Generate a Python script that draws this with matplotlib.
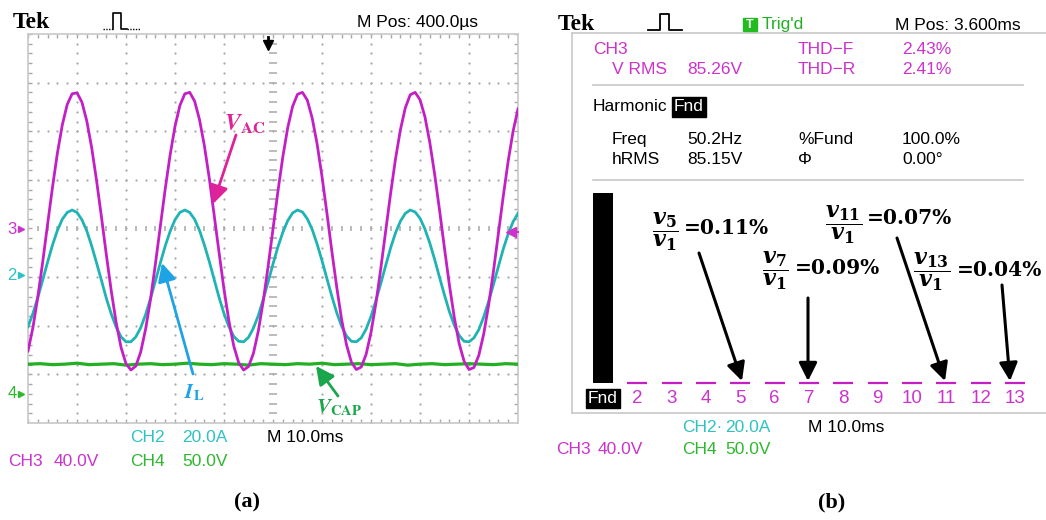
'''Scope captures: (a) waveforms, (b) harmonic spectrum of V_AC'''
import numpy as np
import matplotlib.pyplot as plt
from matplotlib.lines import Line2D
from matplotlib.patches import Rectangle

W, H = 1046, 520

# screen (a): samples every 1 ms (10 ms/div), values in divisions
t_ms = np.arange(101)
v_ac = [-2.52, -2.04, -1.41, -0.69, 0.09, 0.85, 1.55, 2.13, 2.55, 2.77,
        2.79, 2.60, 2.21, 1.66, 0.98, 0.23, -0.55, -1.29, -1.94, -2.45,
        -2.78, -2.91, -2.83, -2.54, -2.07, -1.46, -0.73, 0.04, 0.81, 1.51,
        2.10, 2.53, 2.77, 2.80, 2.62, 2.24, 1.70, 1.03, 0.27, -0.50,
        -1.25, -1.90, -2.42, -2.76, -2.91, -2.84, -2.57, -2.11, -1.50, -0.78,
        -0.01, 0.76, 1.47, 2.07, 2.51, 2.76, 2.80, 2.64, 2.27, 1.74,
        1.07, 0.32, -0.46, -1.20, -1.87, -2.39, -2.75, -2.90, -2.85, -2.59,
        -2.14, -1.54, -0.82, -0.05, 0.72, 1.43, 2.03, 2.48, 2.75, 2.80,
        2.65, 2.30, 1.77, 1.11, 0.37, -0.41, -1.16, -1.83, -2.37, -2.73,
        -2.90, -2.86, -2.61, -2.17, -1.58, -0.87, -0.10, 0.67, 1.39, 2.00,
        2.46]
i_l = [-2.02, -1.75, -1.42, -1.06, -0.69, -0.34, -0.04, 0.19, 0.33, 0.38,
       0.33, 0.18, -0.05, -0.36, -0.71, -1.07, -1.44, -1.76, -2.03, -2.23,
       -2.33, -2.33, -2.23, -2.04, -1.77, -1.44, -1.08, -0.71, -0.36, -0.06,
       0.18, 0.33, 0.38, 0.33, 0.19, -0.04, -0.34, -0.68, -1.05, -1.42,
       -1.75, -2.02, -2.22, -2.32, -2.33, -2.24, -2.05, -1.79, -1.46, -1.10,
       -0.73, -0.38, -0.08, 0.16, 0.32, 0.38, 0.34, 0.20, -0.02, -0.32,
       -0.66, -1.03, -1.39, -1.73, -2.01, -2.21, -2.32, -2.33, -2.25, -2.07,
       -1.81, -1.48, -1.13, -0.76, -0.40, -0.09, 0.15, 0.31, 0.38, 0.34,
       0.21, -0.01, -0.30, -0.64, -1.01, -1.37, -1.71, -1.99, -2.20, -2.32,
       -2.33, -2.25, -2.08, -1.82, -1.50, -1.15, -0.78, -0.42, -0.11, 0.14,
       0.31]
vcap_t = np.arange(0, 101, 2.5)
v_cap = [-2.79, -2.78, -2.80, -2.79, -2.77, -2.80, -2.79, -2.78, -2.81, -2.79,
         -2.78, -2.80, -2.79, -2.77, -2.79, -2.80, -2.78, -2.79, -2.81, -2.78,
         -2.79, -2.80, -2.78, -2.79, -2.77, -2.80, -2.79, -2.78, -2.80, -2.79,
         -2.78, -2.81, -2.79, -2.78, -2.80, -2.79, -2.78, -2.79, -2.80, -2.78,
         -2.79]

# screen (b): harmonic amplitudes, % of fundamental
harmonics = np.arange(1, 14)
harm_pct = [100.0, 0.02, 0.03, 0.02, 0.11, 0.02, 0.09, 0.01, 0.02, 0.01, 0.07, 0.01, 0.04]
harm_labels = ['Fnd'] + [str(h) for h in range(2, 14)]
callouts = [(5, '5', '0.11%'), (7, '7', '0.09%'), (11, '11', '0.07%'), (13, '13', '0.04%')]

PUR, CYA, GRN = '#c41fc4', '#1fb3b3', '#22b022'
PUR_T, CYA_T, GRN_T = '#cc33cc', '#2ec2c2', '#2eb82e'
GRAT = '#a8a8a8'
SCOPE = ['Liberation Sans Narrow', 'Liberation Sans', 'DejaVu Sans']
SERIF = ['Liberation Serif', 'DejaVu Serif']

fig = plt.figure(figsize=(W / 100, H / 100), dpi=100)


def fx(x):
    return x / W


def fy(y):
    return 1 - y / H


def stext(x, y, s, color='black', size=12.5, **kw):
    fig.text(fx(x), fy(y), s, color=color, fontsize=size, family=SCOPE, va='center', **kw)


def fline(xs, ys, **kw):
    fig.add_artist(Line2D([fx(v) for v in xs], [fy(v) for v in ys], transform=fig.transFigure, **kw))


# ---------------- (a) ----------------
axL = fig.add_axes([fx(28), fy(423), 490 / W, 389 / H])
axL.set_xlim(0, 100)
axL.set_ylim(-4, 4)
axL.set_xticks([])
axL.set_yticks([])
for sp in axL.spines.values():
    sp.set_color('#c8c8c8')
    sp.set_linewidth(1.2)

minor_x = np.arange(0, 101, 2)
minor_y = np.arange(-4, 4.01, 0.2)
for gy in [-3, -2, -1, 1, 2, 3]:
    axL.scatter(minor_x, np.full(minor_x.size, gy), s=2.6, color=GRAT, lw=0)
for gx in [10, 20, 30, 40, 60, 70, 80, 90]:
    axL.scatter(np.full(minor_y.size, gx), minor_y, s=2.6, color=GRAT, lw=0)
axL.vlines(minor_x, -0.06, 0.06, color=GRAT, lw=1.1)
axL.hlines(minor_y, 49.2, 50.8, color=GRAT, lw=1.1)
axL.vlines(minor_x, 3.92, 4, color=GRAT, lw=1)
axL.vlines(minor_x, -4, -3.92, color=GRAT, lw=1)
axL.hlines(minor_y, 0, 0.8, color=GRAT, lw=1)
axL.hlines(minor_y, 99.2, 100, color=GRAT, lw=1)

axL.plot(t_ms, i_l, color=CYA, lw=2.0, zorder=3)
axL.plot(vcap_t, v_cap, color=GRN, lw=2.3, zorder=3)
axL.plot(t_ms, v_ac, color=PUR, lw=2.0, zorder=4)

arrow = dict(arrowstyle='-|>,head_length=0.5,head_width=0.25', lw=2, shrinkA=0, shrinkB=0,
             mutation_scale=22)


def to_l(x, y):
    return (x - 28) / 490 * 100, 4 - (y - 34) / 389 * 8


axL.annotate('', xy=to_l(213, 204), xytext=to_l(236, 135), arrowprops=dict(arrow, color='#de2399'), zorder=6)
axL.annotate('', xy=to_l(162, 263), xytext=to_l(193, 374), arrowprops=dict(arrow, color='#1ea3e6'), zorder=6)
axL.annotate('', xy=to_l(316, 366), xytext=to_l(338, 396), arrowprops=dict(arrow, color='#1aa64a'), zorder=6)
fig.text(fx(224), fy(131), r'$\mathbfit{V}_{\mathbf{AC}}$', color='#de2399', fontsize=17,
         math_fontfamily='stix', va='baseline')
fig.text(fx(184), fy(398), r'$\mathbfit{I}_{\mathbf{L}}$', color='#1ea3e6', fontsize=15,
         math_fontfamily='stix', va='baseline')
fig.text(fx(316), fy(413), r'$\mathbfit{V}_{\mathbf{CAP}}$', color='#1aa64a', fontsize=15,
         math_fontfamily='stix', va='baseline')

# channel ground / trigger markers
stext(12, 229, '3', PUR_T, 12, ha='center')
stext(12, 275, '2', CYA_T, 12, ha='center')
stext(12, 394, '4', GRN_T, 12, ha='center')
for yy, cc in [(229, PUR_T), (275, CYA_T), (394, GRN_T)]:
    fig.add_artist(Line2D([fx(21)], [fy(yy)], marker='>', ms=5, color=cc, transform=fig.transFigure))
fig.add_artist(Line2D([fx(511)], [fy(232)], marker='<', ms=7, color=PUR_T, transform=fig.transFigure))
fline([511, 518], [232, 232], color=PUR_T, lw=1.5)
fig.add_artist(Line2D([fx(268)], [fy(45)], marker='v', ms=7, color='black', transform=fig.transFigure))
fline([268, 268], [37, 43], color='black', lw=2)

# header / footer (a)
fig.text(fx(13), fy(23), 'Tek', family=SERIF, fontweight='bold', fontsize=17, va='center')
fline([103, 113], [29, 29], color='black', lw=1, ls=(0, (1, 1)))
fline([113, 113, 121, 121, 127], [29, 13, 13, 29, 29], color='black', lw=1.2)
fline([127, 140], [29, 29], color='black', lw=1, ls=(0, (1, 1)))
stext(357, 23, 'M Pos: 400.0\u00b5s', size=12.5)
stext(130, 437, 'CH2', CYA_T)
stext(182, 437, '20.0A', CYA_T)
stext(267, 437, 'M 10.0ms', size=12.5)
stext(8, 462, 'CH3', PUR_T)
stext(54, 462, '40.0V', PUR_T)
stext(130, 462, 'CH4', GRN_T)
stext(182, 462, '50.0V', GRN_T)
fig.text(fx(247), fy(502), '(a)', family=SERIF, fontweight='bold', fontsize=16, ha='center', va='center')

# ---------------- (b) ----------------
axR = fig.add_axes([fx(572), fy(413), (1050 - 572) / W, (413 - 33) / H])
axR.set_xlim(1 - 31 / 34.33, 1 + 447 / 34.33)
axR.set_ylim(-30 / 1.9, 350 / 1.9)
axR.set_xticks([])
axR.set_yticks([])
for sp in axR.spines.values():
    sp.set_color('#c8c8c8')
    sp.set_linewidth(1.2)

axR.bar(harmonics[:1], harm_pct[:1], width=0.58, color='black')
axR.bar(harmonics[1:], harm_pct[1:], width=0.58, color=PUR, edgecolor=PUR, lw=1.6)
for h, lab in zip(harmonics, harm_labels):
    if lab == 'Fnd':
        axR.text(h, -8, lab, color='white', fontsize=12.5, family=SCOPE, ha='center', va='center',
                 bbox=dict(boxstyle='square,pad=0.12', fc='black', ec='black'))
    else:
        axR.text(h, -8, lab, color=PUR_T, fontsize=13.5, family=SCOPE, ha='center', va='center')


def to_r(x, y):
    return 1 + (x - 603) / 34.33, (383 - y) / 1.9


starts = {5: (699, 253), 7: (808, 298), 11: (897, 238), 13: (1002, 285)}
ends = {5: (742, 381), 7: (808, 381), 11: (945, 381), 13: (1010, 381)}
frac_pos = {5: (665, 232, 684, 228), 7: (775, 271, 795, 268), 11: (844, 225, 867, 218),
            13: (932, 272, 957, 270)}
for h, sub, pct in callouts:
    axR.annotate('', xy=to_r(*ends[h]), xytext=to_r(*starts[h]),
                 arrowprops=dict(arrow, color='black', lw=2.2), zorder=6)
    x1, y1, x2, y2 = frac_pos[h]
    fig.text(fx(x1), fy(y1), r'$\dfrac{\mathbfit{v}_{\mathbf{%s}}}{\mathbfit{v}_{\mathbf{1}}}$' % sub,
             fontsize=16, math_fontfamily='dejavuserif', ha='center', va='center')
    fig.text(fx(x2), fy(y2), '=' + pct, family=['DejaVu Serif'], fontweight='bold', fontsize=14.5,
             va='center')

# readout (b)
fig.text(fx(558), fy(25), 'Tek', family=SERIF, fontweight='bold', fontsize=17, va='center')
fline([648, 660, 660, 669, 669, 682], [30, 30, 14, 14, 30, 30], color='black', lw=1.3)
fig.add_artist(Rectangle((fx(743), fy(31)), 14 / W, 13 / H, transform=fig.transFigure,
                         fc='#22bb22', ec='#22bb22'))
stext(750, 24.5, 'T', 'white', 9, ha='center', fontweight='bold')
stext(762, 25, "Trig'd", '#22b022', 12.5)
stext(895, 25, 'M Pos: 3.600ms', size=12.5)
stext(593, 50, 'CH3', PUR_T)
stext(612, 70, 'V RMS', PUR_T)
stext(687, 70, '85.26V', PUR_T)
stext(798, 50, 'THD\u2212F', PUR_T)
stext(798, 70, 'THD\u2212R', PUR_T)
stext(902, 50, '2.43%', PUR_T)
stext(902, 70, '2.41%', PUR_T)
fline([593, 1023], [85, 85], color='#c8c8c8', lw=1.2)
stext(593, 107, 'Harmonic')
fig.text(fx(689), fy(107), 'Fnd', color='white', fontsize=12.5, family=SCOPE, ha='center', va='center',
         bbox=dict(boxstyle='square,pad=0.12', fc='black', ec='black'))
stext(612, 140, 'Freq')
stext(687, 140, '50.2Hz')
stext(798, 140, '%Fund')
stext(902, 140, '100.0%')
stext(612, 160, 'hRMS')
stext(687, 160, '85.15V')
stext(798, 160, '\u03a6')
stext(902, 160, '0.00\u00b0')
fline([593, 1023], [180, 180], color='#c8c8c8', lw=1.2)

stext(682, 427, 'CH2\u00b7', CYA_T)
stext(725, 427, '20.0A', CYA_T)
stext(808, 427, 'M 10.0ms', size=12.5)
stext(556, 450, 'CH3', PUR_T)
stext(598, 450, '40.0V', PUR_T)
stext(682, 450, 'CH4', GRN_T)
stext(725, 450, '50.0V', GRN_T)
fig.text(fx(832), fy(502), '(b)', family=SERIF, fontweight='bold', fontsize=16, ha='center', va='center')

fig.savefig('out.png', dpi=100)
